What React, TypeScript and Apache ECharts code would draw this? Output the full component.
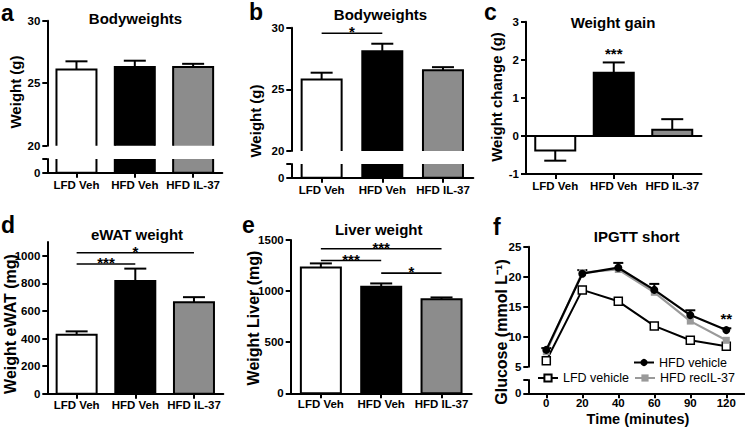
import React, { useEffect, useRef } from 'react';
import * as echarts from 'echarts';

// ---------- data ----------
const groups = ['LFD Veh', 'HFD Veh', 'HFD IL-37'];
const barFills = ['#ffffff', '#000000', '#8c8c8c'];

const bodyweightA = [26.1, 26.3, 26.3];
const bodyweightASem = [0.65, 0.5, 0.25];
const bodyweightB = [25.8, 28.1, 26.55];
const bodyweightBSem = [0.55, 0.6, 0.25];
const weightGainC = [-0.38, 1.66, 0.16];
const weightGainCSem = [0.27, 0.27, 0.28];
const ewatD = [428, 817, 664];
const ewatDSem = [24, 90, 36];
const liverE = [1230, 1043, 920];
const liverESem = [41, 32, 18];

const timePoints = ['0', '20', '40', '60', '90', '120'];
const hfdVehicle = [7.8, 20.5, 21.5, 17.8, 13.6, 11.1];
const hfdVehicleSem = [0.3, 0.6, 0.8, 1.0, 0.8, 0.3];
const hfdRecIL37 = [7.5, 20.7, 21.2, 17.4, 12.6, 9.4];
const lfdVehicle = [6.0, 17.8, 15.9, 11.8, 9.4, 8.4];

// significance marks: [fromCategory, toCategory, lineValue]
const sigB = [[0, 1, 29.55]];
const sigBLabels = ['*'];
const sigC = [[1, 1, 2.13]];
const sigCLabels = ['***'];
const sigD = [[0, 2, 1022], [0, 1, 940]];
const sigDLabels = ['*', '***'];
const sigE = [[0, 2, 1414], [0, 1, 1299], [1, 2, 1176]];
const sigELabels = ['***', '***', '*'];
const sigF = [[5, 5, 12.8]];
const sigFLabels = ['**'];

// ---------- styling helpers ----------
const FONT = '"Liberation Sans", Arial, Helvetica, sans-serif';
const AX = { color: '#000', width: 2 };
const BAR_W = 40;

const barRender = (params: any, api: any) => {
  const i = api.value(0);
  const v = api.value(1);
  const pTop = api.coord([i, v]);
  const pBase = api.coord([i, 0]);
  const cs = params.coordSys;
  const x0 = pTop[0] - BAR_W / 2;
  const x1 = pTop[0] + BAR_W / 2;
  let yA = Math.min(pTop[1], pBase[1]);
  let yB = Math.max(pTop[1], pBase[1]);
  const gTop = cs.y;
  const gBot = cs.y + cs.height;
  const cutA = yA < gTop - 0.5;
  const cutB = yB > gBot + 0.5;
  yA = Math.max(yA, gTop);
  yB = Math.min(yB, gBot);
  if (yB <= yA) return null;
  const st = { stroke: '#000', lineWidth: 2, fill: null, lineJoin: 'miter' };
  const children: any[] = [
    { type: 'rect', shape: { x: x0, y: yA, width: BAR_W, height: yB - yA }, style: { fill: barFills[i], stroke: null } },
  ];
  if (!cutA && !cutB) {
    children.push({ type: 'rect', shape: { x: x0, y: yA, width: BAR_W, height: yB - yA }, style: st });
  } else if (cutB && !cutA) {
    children.push({ type: 'polyline', shape: { points: [[x0, yB], [x0, yA], [x1, yA], [x1, yB]] }, style: st });
  } else if (cutA && !cutB) {
    children.push({ type: 'polyline', shape: { points: [[x0, yA], [x0, yB], [x1, yB], [x1, yA]] }, style: st });
  } else {
    children.push({ type: 'line', shape: { x1: x0, y1: yA, x2: x0, y2: yB }, style: st });
    children.push({ type: 'line', shape: { x1: x1, y1: yA, x2: x1, y2: yB }, style: st });
  }
  return { type: 'group', children };
};

const makeErrRender = (cap: number) => (params: any, api: any) => {
  const i = api.value(0);
  const a = api.coord([i, api.value(1)]);
  const b = api.coord([i, api.value(2)]);
  const st = { stroke: '#000', lineWidth: 2 };
  return {
    type: 'group',
    children: [
      { type: 'line', shape: { x1: a[0], y1: a[1], x2: b[0], y2: b[1] }, style: st },
      { type: 'line', shape: { x1: b[0] - cap, y1: b[1], x2: b[0] + cap, y2: b[1] }, style: st },
    ],
  };
};

const makeSigRender = (labels: string[]) => (params: any, api: any) => {
  const a = api.coord([api.value(0), api.value(2)]);
  const b = api.coord([api.value(1), api.value(2)]);
  const children: any[] = [];
  if (b[0] - a[0] > 1) {
    children.push({ type: 'line', shape: { x1: a[0], y1: a[1], x2: b[0], y2: b[1] }, style: { stroke: '#000', lineWidth: 1.6 } });
  }
  children.push({
    type: 'text',
    x: (a[0] + b[0]) / 2,
    y: a[1] - 1.5,
    style: { text: labels[params.dataIndex], fill: '#000', fontSize: 15, fontWeight: 'bold', fontFamily: FONT, align: 'center', verticalAlign: 'middle' },
  });
  return { type: 'group', children };
};

const barSeries = (xi: number, yi: number, vals: number[]) => ({
  type: 'custom', xAxisIndex: xi, yAxisIndex: yi, renderItem: barRender,
  encode: { x: 0, y: 1 }, data: vals.map((v, i) => [i, v]), z: 2,
});
const errSeries = (xi: number, yi: number, vals: number[], sem: number[], cap: number) => ({
  type: 'custom', xAxisIndex: xi, yAxisIndex: yi, renderItem: makeErrRender(cap),
  encode: { x: 0, y: [1, 2] }, data: vals.map((v, i) => [i, v, v + (v < 0 ? -1 : 1) * sem[i]]), z: 3,
});
const sigSeries = (xi: number, yi: number, marks: number[][], labels: string[]) => ({
  type: 'custom', xAxisIndex: xi, yAxisIndex: yi, renderItem: makeSigRender(labels),
  encode: { x: [0, 1], y: 2 }, data: marks, z: 4,
});

const catAxis = (grid: number, show: boolean, data: string[], fontSize = 11.5, margin = 6) => ({
  type: 'category', gridIndex: grid, data, show, boundaryGap: true,
  axisLine: { show: true, onZero: false, lineStyle: AX },
  axisTick: { show: true, alignWithLabel: true, length: 5, lineStyle: AX },
  axisLabel: { color: '#000', fontWeight: 'bold', fontSize, fontFamily: FONT, margin, interval: 0 },
  splitLine: { show: false },
});

const plain = (v: number) => String(v);

const valAxis = (grid: number, min: number, max: number, interval: number, labelExtra: any = {}, tickExtra: any = {}) => ({
  type: 'value', gridIndex: grid, min, max, interval,
  axisLine: { show: true, lineStyle: AX },
  axisTick: { show: true, length: 5, lineStyle: AX, ...tickExtra },
  axisLabel: { color: '#000', fontWeight: 'bold', fontSize: 11.5, fontFamily: FONT, margin: 7, formatter: plain, ...labelExtra },
  splitLine: { show: false },
});

const zeroOnly = { formatter: (v: number) => (v === 0 ? '0' : '') };

const txt = (text: string, x: number, y: number, size: number, rot = 0, align = 'center', weight = 'bold') => ({
  type: 'text', x, y, rotation: rot,
  style: { text, fill: '#000', fontSize: size, fontWeight: weight, fontFamily: FONT, align, verticalAlign: 'middle' },
});

function buildOption(): any {
  const R = Math.PI / 2;
  const dTicks = [0, 200, 400, 600, 800, 1000];
  return {
    animation: false,
    backgroundColor: '#fff',
    grid: [
      { left: 47.3, top: 20.7, width: 175, height: 125 },
      { left: 47.3, top: 159, width: 175, height: 13.7 },
      { left: 291.3, top: 27.7, width: 182, height: 123.3 },
      { left: 291.3, top: 164, width: 182, height: 13.7 },
      { left: 526, top: 21.7, width: 175.5, height: 152.3 },
      { left: 47.3, top: 242, width: 176, height: 151.7 },
      { left: 290.7, top: 240, width: 181, height: 153.3 },
      { left: 528.3, top: 246.7, width: 216, height: 120 },
      { left: 528.3, top: 380, width: 216, height: 13.3 },
    ],
    xAxis: [
      catAxis(0, false, groups),
      catAxis(1, true, groups),
      catAxis(2, false, groups),
      catAxis(3, true, groups),
      catAxis(4, true, groups),
      {
        type: 'category', gridIndex: 4, data: groups, position: 'top',
        axisLine: { show: true, onZero: true, lineStyle: AX },
        axisTick: { show: false }, axisLabel: { show: false }, splitLine: { show: false },
      },
      catAxis(5, true, groups, 11.5, 5),
      catAxis(6, true, groups, 11.5, 5),
      catAxis(7, false, timePoints),
      catAxis(8, true, timePoints, 11.5, 4),
    ],
    yAxis: [
      valAxis(0, 20, 30, 5),
      valAxis(1, 0, 1, 1, zeroOnly),
      valAxis(2, 20, 30, 5),
      valAxis(3, 0, 1, 1, zeroOnly),
      valAxis(4, -1, 3, 1),
      valAxis(5, 0, 1100, 200, { customValues: dTicks }, { customValues: dTicks }),
      valAxis(6, 0, 1500, 500),
      valAxis(7, 5, 25, 5),
      valAxis(8, 0, 1, 1, zeroOnly),
    ],
    legend: [
      {
        data: ['HFD vehicle'], left: 633, top: 356, padding: 0, itemWidth: 20, itemHeight: 9, itemGap: 4,
        selectedMode: false, textStyle: { color: '#000', fontSize: 12.5, fontFamily: FONT },
      },
      {
        data: ['LFD vehicle', 'HFD recIL-37'], left: 537, top: 371.5, padding: 0, itemWidth: 20, itemHeight: 9, itemGap: 5,
        selectedMode: false, textStyle: { color: '#000', fontSize: 12.5, fontFamily: FONT },
      },
    ],
    series: [
      barSeries(0, 0, bodyweightA),
      errSeries(0, 0, bodyweightA, bodyweightASem, 11),
      barSeries(1, 1, bodyweightA),

      barSeries(2, 2, bodyweightB),
      errSeries(2, 2, bodyweightB, bodyweightBSem, 11),
      barSeries(3, 3, bodyweightB),
      sigSeries(2, 2, sigB, sigBLabels),

      barSeries(4, 4, weightGainC),
      errSeries(4, 4, weightGainC, weightGainCSem, 11),
      sigSeries(4, 4, sigC, sigCLabels),

      barSeries(6, 5, ewatD),
      errSeries(6, 5, ewatD, ewatDSem, 11),
      sigSeries(6, 5, sigD, sigDLabels),

      barSeries(7, 6, liverE),
      errSeries(7, 6, liverE, liverESem, 11),
      sigSeries(7, 6, sigE, sigELabels),

      {
        type: 'line', name: 'LFD vehicle', xAxisIndex: 8, yAxisIndex: 7, data: lfdVehicle,
        symbol: 'rect', symbolSize: 8, lineStyle: { color: '#000', width: 2 },
        itemStyle: { color: '#fff', borderColor: '#000', borderWidth: 1.5 }, z: 3,
      },
      {
        type: 'line', name: 'HFD recIL-37', xAxisIndex: 8, yAxisIndex: 7, data: hfdRecIL37,
        symbol: 'rect', symbolSize: 7, lineStyle: { color: '#9a9a9a', width: 2.2 },
        itemStyle: { color: '#9a9a9a' }, z: 4,
      },
      errSeries(8, 7, hfdVehicle, hfdVehicleSem, 5),
      {
        type: 'line', name: 'HFD vehicle', xAxisIndex: 8, yAxisIndex: 7, data: hfdVehicle,
        symbol: 'circle', symbolSize: 8, lineStyle: { color: '#000', width: 2.2 },
        itemStyle: { color: '#000' }, z: 5,
      },
      sigSeries(8, 7, sigF, sigFLabels),
    ],
    graphic: [
      txt('a', 1, 13, 23, 0, 'left'),
      txt('b', 249, 12, 23, 0, 'left'),
      txt('c', 484, 12, 23, 0, 'left'),
      txt('d', 1, 225, 23, 0, 'left'),
      txt('e', 242, 225, 23, 0, 'left'),
      txt('f', 493, 227, 23, 0, 'left'),

      txt('Bodyweights', 135.5, 18.5, 15),
      txt('Bodyweights', 380.5, 14.5, 15),
      txt('Weight gain', 613, 22, 15),
      txt('eWAT weight', 137, 234.5, 15),
      txt('Liver weight', 378.7, 229.5, 15),
      txt('IPGTT short', 636.7, 236.7, 15),

      txt('Weight (g)', 15.5, 92, 15, R),
      txt('Weight (g)', 255, 121, 15, R),
      txt('Weight change (g)', 496, 97, 15, R),
      txt('Weight eWAT (mg)', 10, 324, 16, R),
      txt('Weight Liver (mg)', 253, 318, 16, R),
      txt('Glucose (mmol L\u207B\u00B9)', 501, 332, 16, R),
      txt('Time (minutes)', 638, 419, 14.5),
    ],
  };
}

export default function App() {
  const ref = useRef<HTMLDivElement>(null);
  useEffect(() => {
    const chart = echarts.init(ref.current as HTMLDivElement, null, { renderer: 'svg' });
    chart.setOption(buildOption());
    return () => chart.dispose();
  }, []);
  return (
    <div
      ref={ref}
      style={{ position: 'absolute', left: 0, top: 0, width: 745, height: 431, background: '#fff' }}
    />
  );
}
